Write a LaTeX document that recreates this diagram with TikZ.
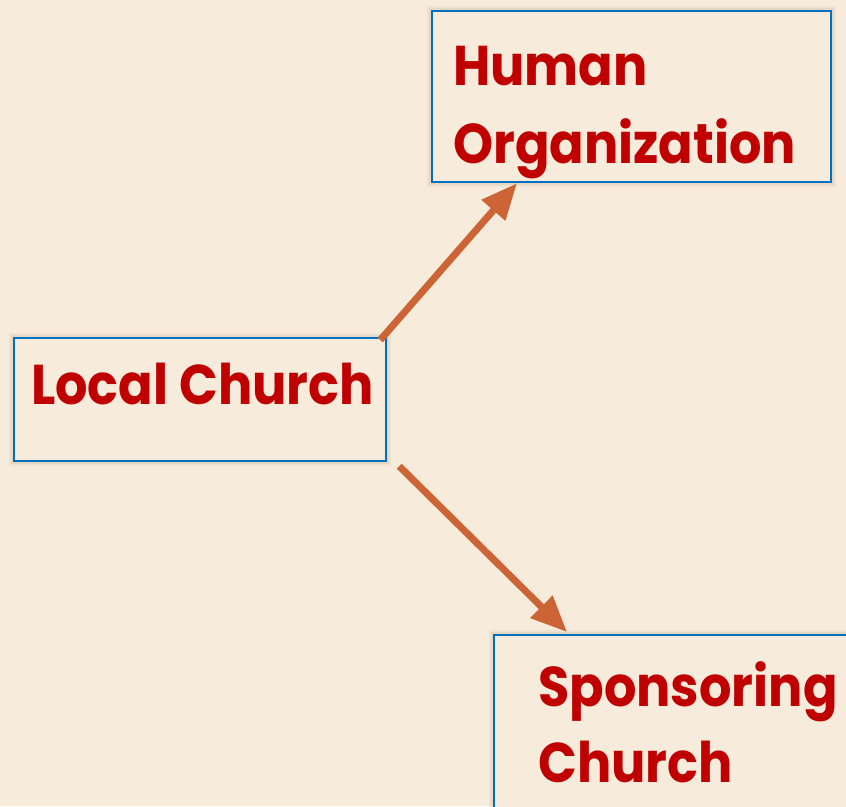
\documentclass[tikz,border=0pt]{standalone}
\usepackage{fontspec}
\setmainfont{Poppins}
\usetikzlibrary{arrows.meta,calc}
\definecolor{bg}{HTML}{F7ECDC}
\definecolor{boxblue}{HTML}{0070C0}
\definecolor{txtred}{HTML}{C00000}
\definecolor{arr}{HTML}{CD6436}
\definecolor{halo}{HTML}{C8B89E}
\newcommand{\lbltext}[1]{\scalebox{0.91}[1]{#1}}
\begin{document}
\begin{tikzpicture}[x=1pt,y=-1pt,
  box/.style={draw=boxblue,line width=2.2pt,fill=bg,inner sep=0pt,anchor=north west,
    preaction={draw=halo,draw opacity=0.18,line width=10pt},
    preaction={draw=halo,draw opacity=0.25,line width=6pt}},
  lbl/.style={text=txtred,font=\bfseries\fontsize{56}{56}\selectfont,anchor=base west,inner sep=0pt},
  conn/.style={draw=arr,line width=7pt,-{Triangle[length=36pt,width=30pt]}}]
\fill[bg] (0,0) rectangle (846,806);
\useasboundingbox (0,0) rectangle (846,806);
\clip (0,0) rectangle (846,806);
\node[box,minimum width=399pt,minimum height=171pt] (ho) at (431,10) {};
\node[box,minimum width=372pt,minimum height=123pt] (lc) at (13,337) {};
\node[box,minimum width=380pt,minimum height=200pt] (sc) at (493,634) {};
\node[lbl] (ho1) at (453,85) {\lbltext{Human}};
\node[lbl] (ho2) at (453,163) {\lbltext{Organization}};
\node[lbl] (lc1) at (31,404) {\lbltext{Local Church}};
\node[lbl] (sc1) at (538,706) {\lbltext{Sponsoring}};
\node[lbl] (sc2) at (538,782) {\lbltext{Church}};
\draw[conn] ($(lc.north east)+(-7,3)$) -- ($(ho.south west)+(86,0)$);
\draw[conn] ($(lc.south east)+(12,4)$) -- ($(sc.north west)+(74,-2)$);
\end{tikzpicture}
\end{document}
